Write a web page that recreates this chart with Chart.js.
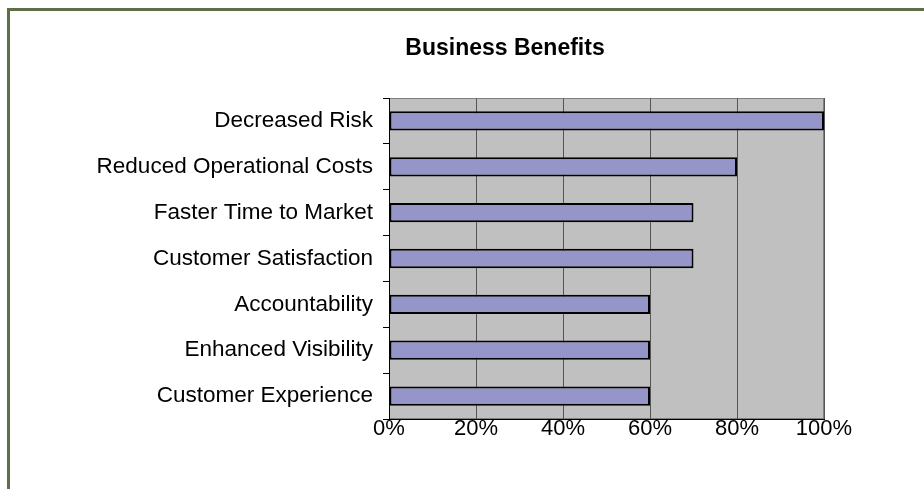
<!DOCTYPE html>
<html>
<head>
<meta charset="utf-8">
<title>Business Benefits</title>
<script src="https://cdn.jsdelivr.net/npm/chart.js@4/dist/chart.umd.min.js"></script>
<style>
    body { margin: 0; background: #fff; }
    #wrap { position: relative; width: 924px; height: 489px; overflow: hidden; }
    #frame { position: absolute; left: 7px; top: 8px; width: 1000px; height: 600px;
             border-left: 3px solid #5E6E48; border-top: 3px solid #5E6E48; }
    canvas { position: absolute; left: 0; top: 0; }
</style>
</head>
<body>
<div id="wrap">
    <div id="frame"></div>
    <canvas id="myChart" width="924" height="489"></canvas>
</div>
<script>
// chart data
const categories = ["Decreased Risk", "Reduced Operational Costs", "Faster Time to Market",
    "Customer Satisfaction", "Accountability", "Enhanced Visibility", "Customer Experience"];
const benefitValues = [100, 80, 70, 70, 60, 60, 60];
const xTicks = [0, 20, 40, 60, 80, 100];

// gray plot area with a thin gray frame
const plotBackground = {
    id: "plotBackground",
    afterLayout(chart) {
        // title is centred over the area right of x=186, like the original
        if (chart.titleBlock) {
            chart.titleBlock.left = chart.chartArea.left - 203;
            chart.titleBlock.right = chart.chartArea.right;
        }
    },
    beforeDraw(chart) {
        const { ctx, chartArea } = chart;
        ctx.save();
        ctx.fillStyle = "#C0C0C0";
        ctx.fillRect(chartArea.left, chartArea.top, chartArea.width, chartArea.height);
        ctx.strokeStyle = "#808080";
        ctx.lineWidth = 1;
        ctx.strokeRect(chartArea.left + 0.5, chartArea.top + 0.5, chartArea.width - 1, chartArea.height - 1);
        ctx.restore();
    }
};

const ctx = document.getElementById("myChart").getContext("2d");
new Chart(ctx, {
    type: "bar",
    data: {
        labels: categories,
        datasets: [{
            data: benefitValues,
            backgroundColor: "#9595C9",
            borderColor: "#000000",
            borderWidth: 2,
            borderSkipped: false,
            barPercentage: 0.42,
            categoryPercentage: 1
        }]
    },
    options: {
        indexAxis: "y",
        responsive: false,
        animation: false,
        devicePixelRatio: 1,
        layout: { padding: { left: 0, right: 100, top: 25, bottom: 45 } },
        plugins: {
            legend: { display: false },
            tooltip: { enabled: false },
            title: {
                display: true,
                text: "Business Benefits",
                color: "#000",
                font: { family: "'Liberation Sans', Arial, sans-serif", size: 23, weight: "bold", lineHeight: 1 },
                padding: { top: 12, bottom: 38 }
            }
        },
        scales: {
            x: {
                min: 0,
                max: 100,
                afterBuildTicks(scale) {
                    scale.ticks = xTicks.map(v => ({ value: v }));
                },
                afterFit(scale) { scale.height = 25; },
                border: { display: true, color: "#000", width: 1 },
                grid: { color: "#555", lineWidth: 1, drawTicks: false },
                ticks: {
                    color: "#000",
                    padding: -3,
                    maxRotation: 0,
                    font: { family: "'Liberation Sans', Arial, sans-serif", size: 22 },
                    callback: v => v + "%"
                }
            },
            y: {
                afterFit(scale) { scale.width = 389; },
                border: { display: true, color: "#000", width: 1 },
                grid: { drawOnChartArea: false, drawTicks: true, tickLength: 6, color: "#000" },
                ticks: {
                    color: "#000",
                    padding: 10,
                    font: { family: "'Liberation Sans', Arial, sans-serif", size: 22.5 }
                }
            }
        }
    },
    plugins: [plotBackground]
});
</script>
</body>
</html>
